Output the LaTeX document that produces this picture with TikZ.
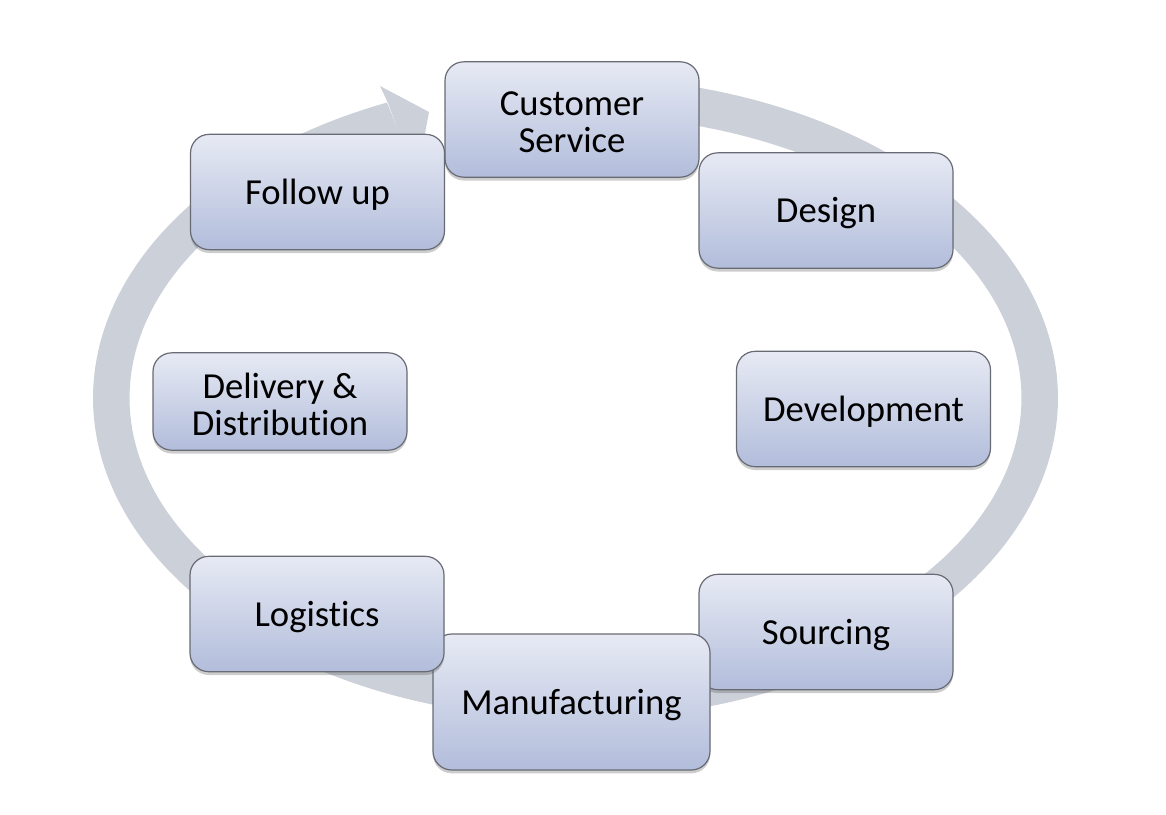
\documentclass[tikz,border=0pt]{standalone}
\usepackage{fontspec}
\setmainfont[Ligatures=NoCommon]{Carlito}
\usetikzlibrary{shadows}
\definecolor{ringgray}{HTML}{CCD0D9}
\definecolor{boxtop}{HTML}{E7EAF4}
\definecolor{boxbot}{HTML}{B2BDDB}
\definecolor{boxedge}{HTML}{686B74}
\begin{document}
\begin{tikzpicture}[x=0.75pt,y=-0.75pt,
  stagebox/.style={draw=boxedge, line width=0.9pt, rounded corners=14pt,
    top color=boxtop, bottom color=boxbot, inner sep=0pt,
    minimum width=190.5pt, minimum height=86.5pt,
    drop shadow={shadow xshift=0pt, shadow yshift=-2.5pt, opacity=0.28, fill=black!70},
    label={[stagetext]center:#1}},
  stagetext/.style={align=center, inner sep=0pt, yshift=-2.2pt,
    font=\fontsize{27.5}{28}\selectfont},
  ringfill/.style={fill=ringgray}]
\useasboundingbox (0,0) rectangle (1166,814);
% ring band (clockwise cycle)
\fill[ringfill] plot[domain=104:-247, samples=240] ({575.5+482.5*cos(\x)}, {398-321*sin(\x)})
  -- plot[domain=-247:104, samples=240] ({575.5+446*cos(\x)}, {398-283*sin(\x)}) -- cycle;
% arrow head
\coordinate (hbo) at (388,103);
\coordinate (hbarbo) at (380,86);
\coordinate (htip) at (429,112);
\coordinate (hbarbi) at (420,160);
\coordinate (hbi) at (401,138);
\fill[ringfill] (hbo) -- (hbarbo) -- (htip) -- (hbarbi) -- (hbi) -- cycle;
% stages
\node[stagebox={Customer\\Service}] (cs) at (572,119.5) {};
\node[stagebox={Design}] (design) at (826,210.5) {};
\node[stagebox={Development}] (dev) at (863.5,409) {};
\node[stagebox={Sourcing}] (src) at (826,632) {};
\node[stagebox={Manufacturing}, minimum width=207.75pt, minimum height=102pt] (mfg) at (571.5,702) {};
\node[stagebox={Logistics}] (log) at (317,614) {};
\node[stagebox={Delivery \&\\Distribution}, minimum height=73pt] (del) at (280,401.5) {};
\node[stagebox={Follow up}] (fu) at (317.5,192) {};
\end{tikzpicture}
\end{document}
